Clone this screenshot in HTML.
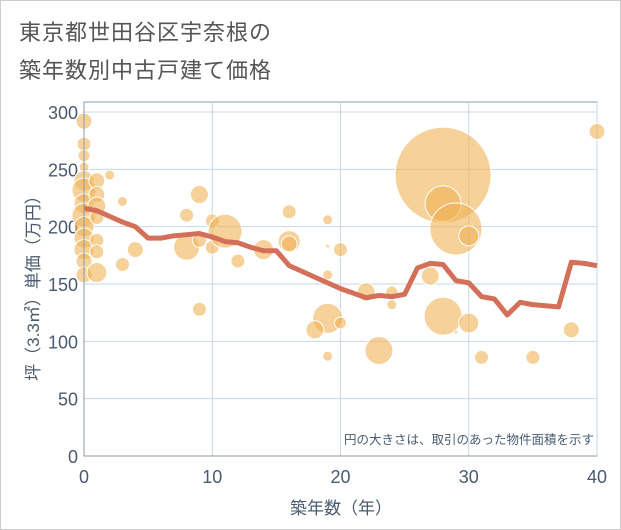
<!DOCTYPE html>
<html><head><meta charset="utf-8"><style>
body{margin:0;background:#fff;font-family:"Liberation Sans","Noto Sans CJK JP",sans-serif}
#w{position:relative;width:619px;height:528px;border:1px solid #ccc;background:#fff}
.t{position:absolute;left:18px;font-size:22px;color:#555;letter-spacing:1px}
</style></head><body>
<div id="w">
<div class="t" style="top:14px">東京都世田谷区宇奈根の</div>
<div class="t" style="top:52px">築年数別中古戸建て価格</div>
<svg id="s" width="621" height="530" style="position:absolute;left:-1px;top:-1px"></svg>
</div>
<script>
const lineX=[0,1,2,3,4,5,6,7,8,9,10,11,12,13,14,15,16,17,18,19,20,21,22,23,24,25,26,27,28,29,30,31,32,33,34,35,36,37,38,39,40];
const lineY=[216,214,209,204,200,190,190,192,193,194,191,187,186,182,179,179,166,161,156,151,146,142,138,140,139,141,164,168,167,153,151,139,137,123,134,132,131,130,169,168,166];
const bubX=[0,0,0,0,0,0,0,0,0,0,0,0,0,1,1,1,1,1,1,1,2,3,3,4,8,8,9,9,9,10,10,11,12,14,16,16,16,19,19,19,19,18,20,20,19,22,23,24,24,27,28,28,28,29,29,30,30,31,35,38,40];
const bubY=[292,272,262,252,240,232,220,210,200,190,180,170,158,240,228,218,208,188,178,160,245,222,167,180,210,182,228,188,128,205,182,196,170,180,213,187,185,206,183,158,120,110,180,116,87,143,92,143,132,157,245,220,122,198,108,192,116,86,86,110,283];
const bubR=[8,7,6,5,10,12,10,12,10,10,10,8,8,8,8,9,7,7,7,10,5,5,7,8,7,13,9,7,7,7,7,17,7,10,7,11,8,5,2,5,15,9,7,6,5,9,14,6,5,9,48,18,19,26,2,10,10,7,7,8,8];
const xTicks=[0,10,20,30,40], yTicks=[0,50,100,150,200,250,300];
const X0=84,X1=597,Y0=456,Y1=112;
const sx=v=>X0+(X1-X0)*v/40, sy=v=>Y0-(Y0-Y1)*v/300;
const s=document.getElementById('s'),NS='http://www.w3.org/2000/svg';
function mk(t,a,p){const e=document.createElementNS(NS,t);for(const k in a)e.setAttribute(k,a[k]);(p||s).appendChild(e);return e;}
const bg=mk('rect',{x:X0,y:102,width:X1-X0,height:Y0-102,fill:'#fff',stroke:'#8a9aaa'});


xTicks.forEach(v=>{const l=mk('line',{x1:sx(v),x2:sx(v),y1:102,y2:Y0,stroke:'#c8d6e6'});


const t=mk('text',{x:sx(v),y:483,'text-anchor':'middle','font-size':18,fill:'#4a5a70'});t.textContent=v;

});
yTicks.forEach(v=>{const l=mk('line',{x1:X0,x2:X1,y1:sy(v),y2:sy(v),stroke:'#c8d6e6'});


const t=mk('text',{x:78,y:sy(v)+7,'text-anchor':'end','font-size':18,fill:'#4a5a70'});t.textContent=v;

});
const g=mk('g',{});


bubX.forEach((v,i)=>{const c=mk('circle',{cx:sx(v),cy:sy(bubY[i]),r:bubR[i],fill:'rgba(240,178,85,0.6)',stroke:'#fff','stroke-width':1},g);

});
const ln=mk('polyline',{points:lineX.map((v,i)=>sx(v)+','+sy(lineY[i])).join(' '),fill:'none',stroke:'#d4705a','stroke-width':5,'stroke-linejoin':'round'});


mk('line',{x1:X0,x2:X0,y1:102,y2:Y0,stroke:'#8a9aaa'});
mk('line',{x1:X0,x2:X1,y1:Y0,y2:Y0,stroke:'#8a9aaa'});
const note=mk('text',{x:594,y:444,'text-anchor':'end','font-size':12.5,fill:'#4a5a70'});note.textContent='円の大きさは、取引のあった物件面積を示す';


const xt=mk('text',{x:341,y:514,'text-anchor':'middle','font-size':17,fill:'#4a5a70'});xt.textContent='築年数（年）';


const yt=mk('text',{x:0,y:0,'text-anchor':'middle','font-size':17,fill:'#4a5a70',transform:'translate(39,284) rotate(-90)'});yt.textContent='坪（3.3㎡）単価（万円）';


</script>
</body></html>
